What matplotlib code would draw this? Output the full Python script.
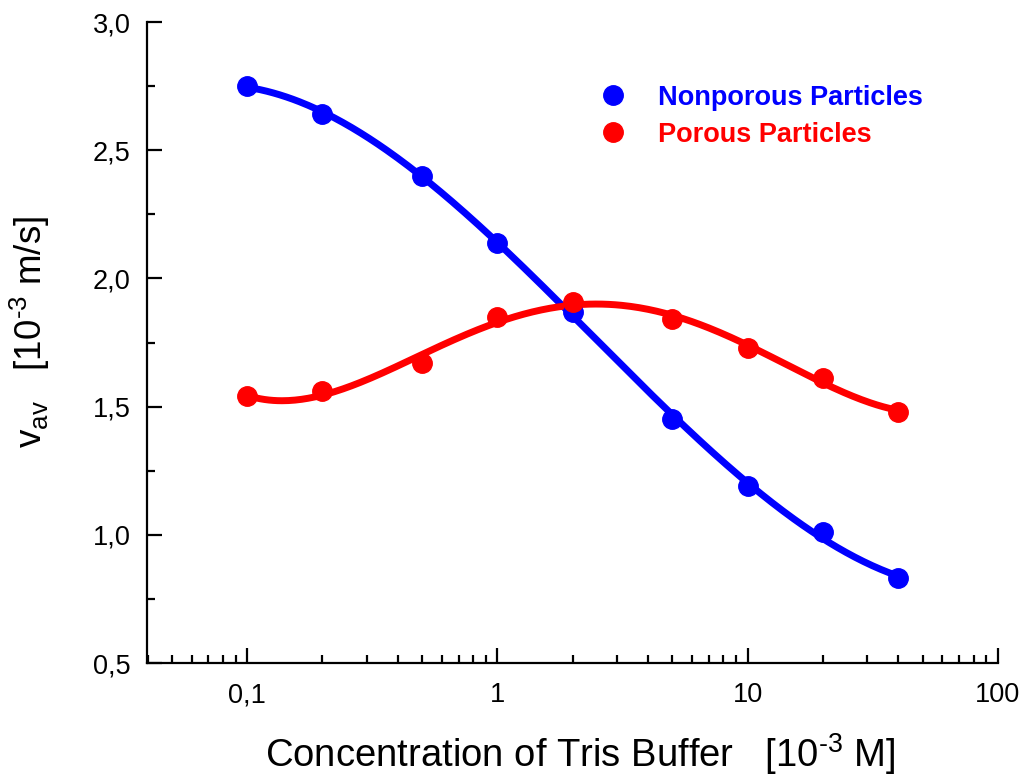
import numpy as np
import matplotlib
matplotlib.use('Agg')
import matplotlib.pyplot as plt
from matplotlib.ticker import FixedLocator, MultipleLocator, FuncFormatter, LogLocator, NullFormatter

plt.rcParams['font.family'] = ['Liberation Sans', 'DejaVu Sans']
plt.rcParams['mathtext.fontset'] = 'custom'
plt.rcParams['mathtext.rm'] = 'Liberation Sans'

# data
conc = [0.1, 0.2, 0.5, 1, 2, 5, 10, 20, 40]
v_nonporous = [2.75, 2.64, 2.40, 2.14, 1.87, 1.45, 1.19, 1.01, 0.83]
v_porous = [1.54, 1.56, 1.67, 1.85, 1.91, 1.84, 1.73, 1.61, 1.48]

x_ticks = [0.1, 1, 10, 100]
x_ticklabels = ['0,1', '1', '10', '100']

fig = plt.figure(figsize=(10.25, 7.76), dpi=100)
ax = fig.add_axes([0.1434, 0.1456, 0.8302, 0.8260])

# smooth fitted curves (polynomial in log10 of concentration)
lx = np.log10(conc)
xs = np.linspace(lx[0], lx[-1], 300)
fit_blue = np.polyval(np.polyfit(lx, v_nonporous, 3), xs)
fit_red = np.polyval(np.polyfit(lx, v_porous, 4), xs)

ax.plot(10 ** xs, fit_blue, color='#0000ff', lw=5, zorder=2)
ax.plot(10 ** xs, fit_red, color='#ff0000', lw=5, zorder=2)
ax.plot(conc, v_nonporous, 'o', color='#0000ff', ms=14, zorder=3, label='Nonporous Particles')
ax.plot(conc, v_porous, 'o', color='#ff0000', ms=14, zorder=3, label='Porous Particles')

ax.set_xscale('log')
ax.set_xlim(0.0398, 100)
ax.set_ylim(0.5, 3.0)

ax.xaxis.set_major_locator(FixedLocator(x_ticks))
ax.set_xticklabels(x_ticklabels)
ax.xaxis.set_minor_locator(LogLocator(base=10, subs=np.arange(2, 10)))
ax.xaxis.set_minor_formatter(NullFormatter())
ax.yaxis.set_major_locator(MultipleLocator(0.5))
ax.yaxis.set_minor_locator(MultipleLocator(0.25))
ax.yaxis.set_major_formatter(FuncFormatter(lambda v, p: f'{v:.1f}'.replace('.', ',')))

for s in ['top', 'right']:
    ax.spines[s].set_visible(False)
for s in ['left', 'bottom']:
    ax.spines[s].set_linewidth(1.6)

ax.tick_params(which='both', direction='in', width=1.6, labelsize=19.5)
ax.tick_params(which='major', length=11, pad=12)
ax.tick_params(which='minor', length=6)
ax.tick_params(axis='x', which='major', pad=14)

ax.set_xlabel(r'Concentration of Tris Buffer   [10$^{\text{-3}}$ M]', fontsize=27.5)
ax.xaxis.set_label_coords(0.509, -0.107)
ax.set_ylabel(r'v$_{\mathregular{av}}$   [10$^{\text{-3}}$ m/s]', fontsize=26.5)
ax.yaxis.set_label_coords(-0.112, 0.516)

leg = ax.legend(loc='center left', bbox_to_anchor=(0.5, 0.853), frameon=False,
                handletextpad=1.05, labelspacing=0.42, handlelength=1.2,
                prop={'weight': 'bold', 'size': 19.5})
for txt, c in zip(leg.get_texts(), ['#0000ff', '#ff0000']):
    txt.set_color(c)

fig.savefig('out.png', dpi=100)
